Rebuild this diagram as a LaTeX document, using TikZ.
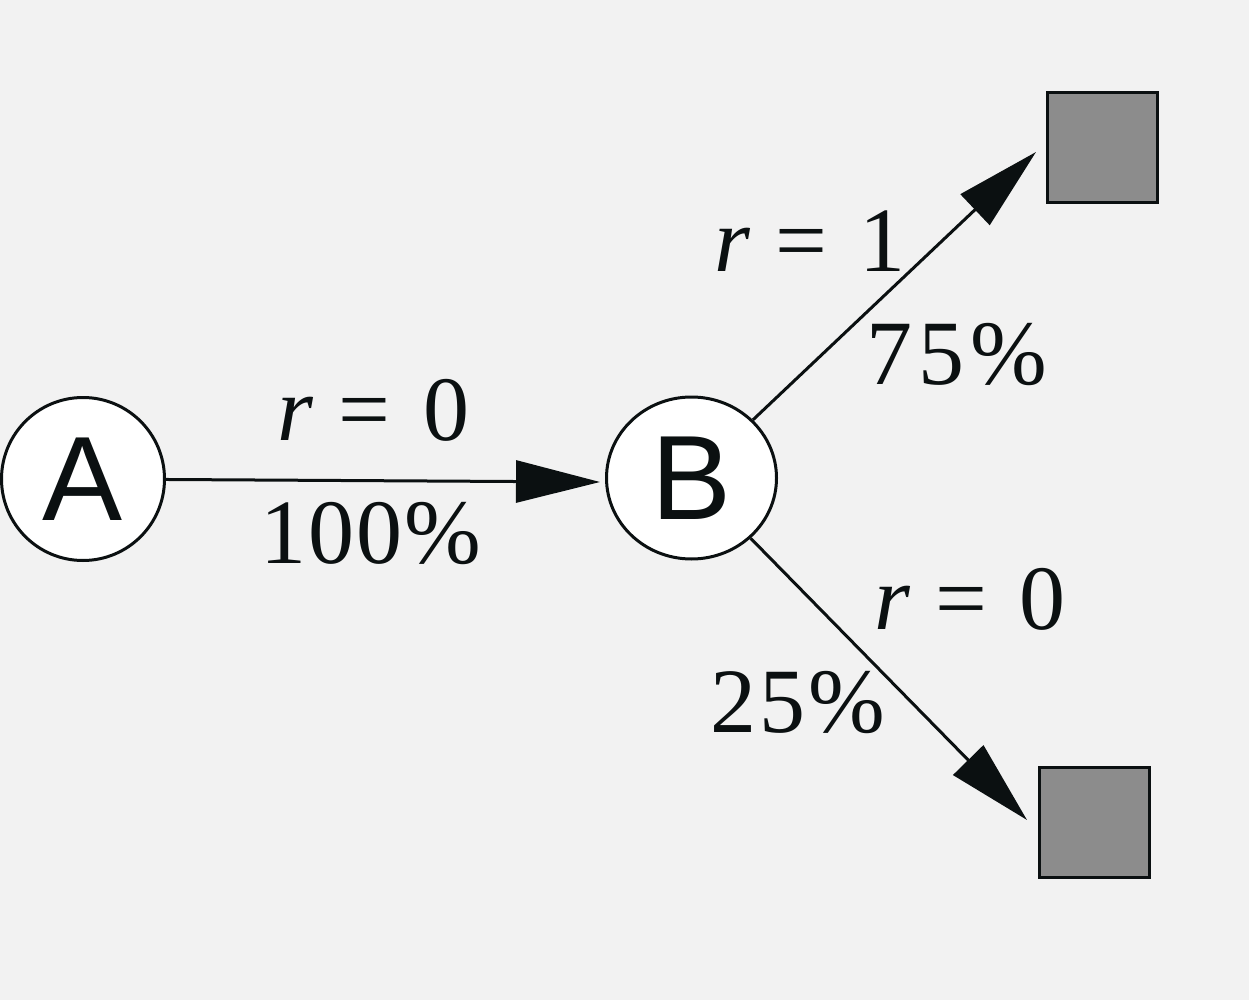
\documentclass[tikz,border=0pt]{standalone}
\usepackage{fontspec}
\setmainfont{Liberation Serif}
\newfontfamily\lsans{Liberation Sans}
\usetikzlibrary{arrows.meta,shapes.geometric}
\definecolor{bg}{HTML}{F2F2F2}
\definecolor{sq}{HTML}{8C8C8C}
\definecolor{ink}{HTML}{0B1011}
\newcommand{\rlab}[1]{\textit{r}\hspace{2pt} = \hspace{10pt}#1}
\begin{document}
\begin{tikzpicture}[x=1pt,y=-1pt,
  state/.style={draw=ink, line width=3pt, fill=white, ellipse, inner sep=0pt,
    font=\lsans\fontsize{120}{120}\selectfont, text=ink},
  term/.style={draw=ink, line width=3pt, fill=sq, rectangle, minimum size=110pt, inner sep=0pt},
  edge/.style={draw=ink, line width=3pt, -{Triangle[length=84pt,width=42pt]}},
  lbl/.style={font=\fontsize{92}{92}\selectfont, text=ink, inner sep=0pt, anchor=base}]
\fill[bg] (0,0) rectangle (1249,1000);
\useasboundingbox (0,0) rectangle (1249,1000);
\node[state, minimum width=163pt, minimum height=163pt] (A) at (83,479) {A};
\node[state, minimum width=170pt, minimum height=162pt] (B) at (691.5,478) {B};
\node[term] (T1) at (1102.5,147.5) {};
\node[term] (T2) at (1094,822) {};
\coordinate (tb) at (600,482);
\coordinate (t1) at (1036,152);
\coordinate (t2) at (1027,820);
\draw[edge] (A) -- (tb);
\draw[edge] (B) -- (t1);
\draw[edge] (B) -- (t2);
\node[lbl] (l1) at (373.5,440) {\rlab{0}};
\node[lbl] (l2) at (370.5,563) {1\kern2pt 0\kern2pt 0\kern2pt\%};
\node[lbl] (l3) at (810,271) {\rlab{1}};
\node[lbl] (l4) at (956.5,384) {7\kern6pt 5\kern6pt\%};
\node[lbl] (l5) at (970,629) {\rlab{0}};
\node[lbl] (l6) at (797.5,732) {2\kern3pt 5\kern3pt\%};
\end{tikzpicture}
\end{document}
